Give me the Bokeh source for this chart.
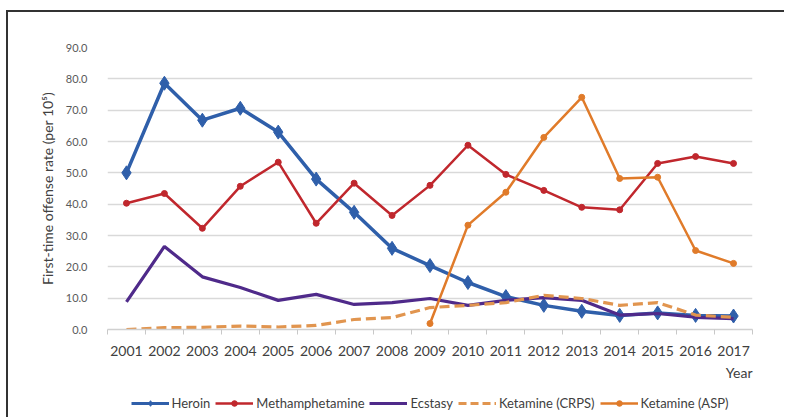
from bokeh.plotting import figure
from bokeh.layouts import column
from bokeh.models import (Range1d, FixedTicker, PrintfTickFormatter, Title,
                          Legend, LegendItem)
from bokeh.embed import file_html
from bokeh.resources import INLINE

years = list(range(2001, 2018))
heroin = [50.0, 78.6, 66.8, 70.6, 63.0, 48.0, 37.4, 25.9, 20.4, 15.0, 10.5, 7.7, 5.8, 4.5, 5.3, 4.5, 4.3]
meth = [40.3, 43.4, 32.3, 45.7, 53.4, 33.9, 46.7, 36.4, 46.0, 58.8, 49.5, 44.4, 39.0, 38.2, 53.0, 55.2, 53.0]
ecstasy = [8.8, 26.5, 16.8, 13.4, 9.3, 11.2, 8.0, 8.6, 9.9, 7.7, 9.3, 10.2, 9.3, 4.6, 5.1, 3.9, 3.5]
ket_crps = [0.0, 0.6, 0.7, 1.1, 0.8, 1.3, 3.2, 3.8, 7.0, 7.7, 8.6, 10.9, 9.9, 7.7, 8.6, 4.6, 3.9]
asp_years = list(range(2009, 2018))
ket_asp = [1.9, 33.3, 43.8, 61.3, 74.1, 48.2, 48.6, 25.2, 21.1]
series_names = ["Heroin", "Methamphetamine", "Ecstasy", "Ketamine (CRPS)", "Ketamine (ASP)"]

y_ticks = [0, 10, 20, 30, 40, 50, 60, 70, 80, 90]
boundaries = [y - 0.5 for y in years] + [years[-1] + 0.5]

FONT = "Lato"
c_heroin = "#2F5FAA"
c_meth = "#C0272D"
c_ecst = "#4F2A8A"
c_crps = "#E1954F"
c_asp = "#E07B2A"

p = figure(width=776, height=376, output_backend="svg", toolbar_location=None,
           x_range=Range1d(2000.5, 2017.5), y_range=Range1d(0, 90),
           min_border_left=99, min_border_right=32, min_border_top=35, min_border_bottom=59)
p.outline_line_color = None
p.background_fill_color = "white"

p.xgrid.grid_line_color = None
p.ygrid.grid_line_color = "#d9d9d9"
p.ygrid.grid_line_width = 1.3
p.ygrid.ticker = FixedTicker(ticks=y_ticks)

p.yaxis.ticker = FixedTicker(ticks=y_ticks)
p.yaxis.formatter = PrintfTickFormatter(format="%.1f")
p.yaxis.axis_line_color = None
p.yaxis.major_tick_line_color = None
p.yaxis.minor_tick_line_color = None
p.yaxis.major_label_text_font = FONT
p.yaxis.major_label_text_font_size = "11px"
p.yaxis.major_label_text_color = "#595959"
p.yaxis.major_label_standoff = 14
p.yaxis.axis_label = "First-time offense rate (per 10\u2075)"
p.yaxis.axis_label_text_font = FONT
p.yaxis.axis_label_text_font_size = "14px"
p.yaxis.axis_label_text_font_style = "normal"
p.yaxis.axis_label_text_color = "#404040"
p.yaxis.axis_label_standoff = 7

p.xaxis.ticker = FixedTicker(ticks=years, minor_ticks=boundaries)
p.xaxis.axis_line_color = "#d0d0d0"
p.xaxis.axis_line_width = 1.3
p.xaxis.major_tick_line_color = None
p.xaxis.minor_tick_line_color = "#c8c8c8"
p.xaxis.minor_tick_in = 0
p.xaxis.minor_tick_out = 5
p.xaxis.major_label_text_font = FONT
p.xaxis.major_label_text_font_size = "14px"
p.xaxis.major_label_text_color = "#404040"
p.xaxis.major_label_standoff = 10

p.line(years, heroin, line_color=c_heroin, line_width=3.5)
p.scatter(years, heroin, marker="diamond", size=14, fill_color=c_heroin, line_color=c_heroin)
p.line(years, meth, line_color=c_meth, line_width=2.5)
p.scatter(years, meth, marker="circle", size=6, fill_color=c_meth, line_color=c_meth)
p.line(years, ecstasy, line_color=c_ecst, line_width=3.2)
p.line(years, ket_crps, line_color=c_crps, line_width=3.2, line_dash="10 5")
p.line(asp_years, ket_asp, line_color=c_asp, line_width=2.5)
p.scatter(asp_years, ket_asp, marker="circle", size=6, fill_color=c_asp, line_color=c_asp)

year_title = Title(text="Year", align="right", text_font=FONT, text_font_size="14px",
                   text_font_style="normal", text_color="#404040", standoff=6, offset=0)
p.add_layout(year_title, "below")

# legend strip (its own small figure, legend glyph swatches only)
leg = figure(width=776, height=29, output_backend="svg", toolbar_location=None,
             x_range=Range1d(0, 1), y_range=Range1d(0, 1),
             x_axis_location=None, y_axis_location=None,
             min_border_left=0, min_border_right=0, min_border_top=0, min_border_bottom=0)
leg.outline_line_color = None
leg.xgrid.grid_line_color = None
leg.ygrid.grid_line_color = None
nan = float("nan")
e = dict(x=[nan], y=[nan])
lh = leg.line(line_color=c_heroin, line_width=3, **e)
sh = leg.scatter(marker="diamond", size=8, fill_color=c_heroin, line_color=c_heroin, **e)
lm = leg.line(line_color=c_meth, line_width=2.5, **e)
sm = leg.scatter(marker="circle", size=6, fill_color=c_meth, line_color=c_meth, **e)
le = leg.line(line_color=c_ecst, line_width=3, **e)
lc = leg.line(line_color=c_crps, line_width=3, line_dash="8 4", **e)
la = leg.line(line_color=c_asp, line_width=2.5, **e)
sa = leg.scatter(marker="circle", size=6, fill_color=c_asp, line_color=c_asp, **e)

legend = Legend(items=[
    LegendItem(label=series_names[0], renderers=[lh, sh]),
    LegendItem(label=series_names[1], renderers=[lm, sm]),
    LegendItem(label=series_names[2], renderers=[le]),
    LegendItem(label=series_names[3], renderers=[lc]),
    LegendItem(label=series_names[4], renderers=[la, sa]),
], orientation="horizontal", location="center")
legend.border_line_color = None
legend.background_fill_alpha = 0
legend.padding = 1
legend.spacing = 5
legend.label_standoff = 3
legend.glyph_width = 38
legend.glyph_height = 14
legend.label_height = 14
legend.label_text_font = FONT
legend.label_text_font_size = "13px"
legend.label_text_color = "#404040"
legend.margin = 0
leg.add_layout(legend, "center")

layout = column(p, leg, spacing=0,
                styles={"border-top": "2px solid #333333", "border-left": "2px solid #333333",
                        "margin-left": "6px", "margin-top": "10px"})

open("out.html", "w").write(file_html(layout, INLINE))
